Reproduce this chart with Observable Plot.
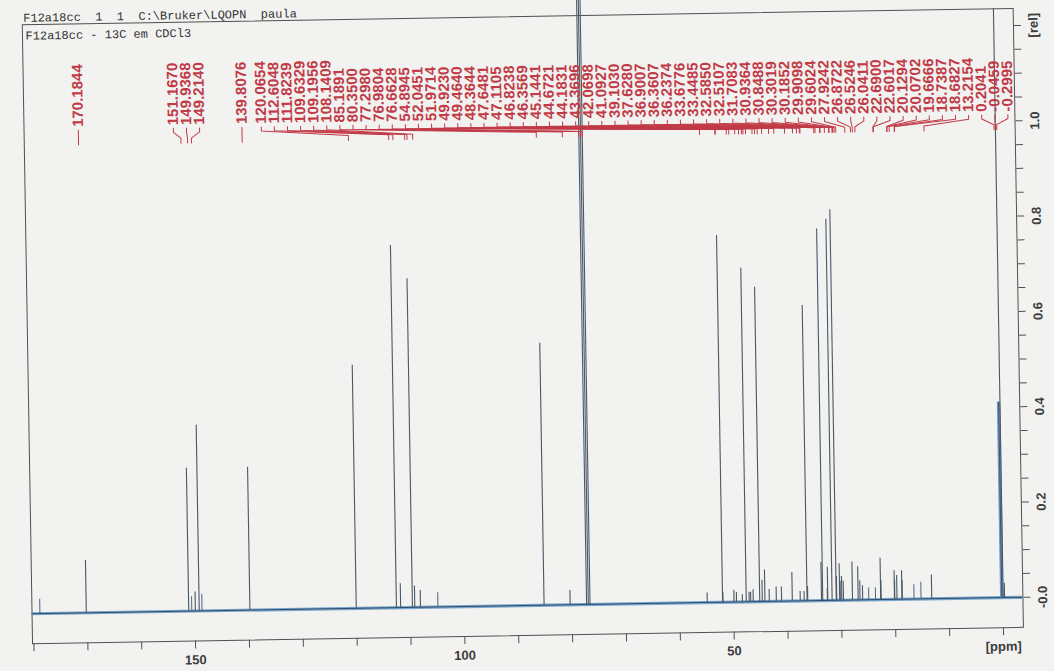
<!DOCTYPE html>
<html><head><meta charset="utf-8">
<script src="https://cdn.jsdelivr.net/npm/d3@7"></script>
<script src="https://cdn.jsdelivr.net/npm/@observablehq/plot@0.6"></script>
<style>
html,body{margin:0;padding:0;background:#f2f2f0;overflow:hidden;}
#wrap{width:1054px;height:671px;transform:rotate(-0.95deg);transform-origin:527px 335px;}
svg text{white-space:pre;}
</style></head><body><div id="wrap"></div>
<script>
// ---- data ----
const headerText = "F12a18cc  1  1  C:\\Bruker\\LQOPN  paula";
const subtitleText = "F12a18cc - 13C em CDCl3";

const peakPpm = [170.1844,151.1670,149.9368,149.2140,139.8076,120.0654,112.6048,111.8239,109.6329,109.1956,108.1409,85.1891,80.3500,77.2980,76.9804,76.6628,54.8945,52.0451,51.9714,49.9230,49.4640,48.3644,47.6481,47.1105,46.8238,46.3569,45.1441,44.6721,44.1831,43.3696,42.0698,41.0927,39.1030,37.6280,36.9007,36.3607,36.2374,33.6776,33.4485,32.5850,32.5107,31.7083,30.9364,30.8488,30.3019,30.1852,29.9098,29.6024,27.9242,26.8722,26.5246,26.0411,22.6900,22.6017,20.1294,20.0702,19.6666,18.7387,18.6827,13.2154,0.2041,-0.0459,-0.2995];
const peakHeight = [0.11,0.30,0.04,0.39,0.30,0.51,0.76,0.05,0.69,0.045,0.035,0.55,0.03,1.27,1.27,1.27,0.02,0.77,0.02,0.025,0.02,0.015,0.70,0.02,0.02,0.025,0.66,0.045,0.066,0.025,0.03,0.03,0.06,0.02,0.02,0.62,0.03,0.08,0.78,0.025,0.07,0.80,0.82,0.05,0.077,0.04,0.05,0.04,0.08,0.07,0.04,0.03,0.087,0.04,0.06,0.04,0.05,0.06,0.04,0.05,0.41,1.236,0.03];

const extraPpm = [178.8,150.6,148.7,104.9,24.9,23.65,16.5,15.2];
const extraHeight = [0.03,0.03,0.035,0.03,0.025,0.025,0.03,0.035];

const broadPpm = [0.2041];
const broadHeight = [0.41];

const xTicks = [180,170,160,150,140,130,120,110,100,90,80,70,60,50,40,30,20,10,0];
const xTickLabels = {150:"150",100:"100",50:"50",0:"[ppm]"};
const yTickCount = 25; // minor step 0.05
const yLabelValues = [0,0.2,0.4,0.6,0.8,1.0,1.2];
const yLabelTexts = ["-0.0","0.2","0.4","0.6","0.8","1.0","[rel]"];

// ---- layout ----
const W = 1054, H = 671, mL = 27, mR = 36, mT = 16, mB = 36;
const xDomain = [180.26, -3.71], yDomain = [-0.063, 1.236];
const xs = d3.scaleLinear(xDomain, [mL, W - mR]);
const ys = d3.scaleLinear(yDomain, [H - mB, mT]);

const peaks = peakPpm.map((p, i) => ({ppm: p, h: peakHeight[i]}));
const extras = extraPpm.map((p, i) => ({ppm: p, h: extraHeight[i]}));
const broads = broadPpm.map((p, i) => ({ppm: p, h: broadHeight[i]}));

// spread labels (Bruker-like): min gap in px, clamp at right
const gap = 13.1, xmax = xs(-2.4);
const order = d3.range(peakPpm.length).sort((a, b) => xs(peakPpm[a]) - xs(peakPpm[b]));
let clusters = order.map(i => ({ids: [i], c: xs(peakPpm[i])}));
let changed = true, guard = 0;
while (changed && guard++ < 5000) {
  changed = false;
  for (const cl of clusters) {
    const half = (cl.ids.length - 1) * gap / 2;
    if (cl.c + half > xmax + 1e-9) { cl.c = xmax - half; }
  }
  for (let k = 0; k < clusters.length - 1; k++) {
    const a = clusters[k], b = clusters[k + 1];
    const aR = a.c + (a.ids.length - 1) * gap / 2;
    const bL = b.c - (b.ids.length - 1) * gap / 2;
    if (bL - aR < gap - 1e-6) {
      const n = a.ids.length + b.ids.length;
      clusters.splice(k, 2, {ids: a.ids.concat(b.ids), c: (a.c * a.ids.length + b.c * b.ids.length) / n});
      changed = true; break;
    }
  }
}
const labels = [];
for (const cl of clusters) {
  const start = cl.c - (cl.ids.length - 1) * gap / 2;
  cl.ids.forEach((i, j) => labels.push({i, text: peakPpm[i].toFixed(4), lx: xs.invert(start + j * gap), px: peakPpm[i]}));
}
const yText = ys.invert(119), yA = ys.invert(122), yB = ys.invert(126), yC = ys.invert(132), yD = ys.invert(137);
const connectors = labels.flatMap(d => [
  {z: d.i, x: d.lx, y: yA}, {z: d.i, x: d.lx, y: yB}, {z: d.i, x: d.px, y: yC}, {z: d.i, x: d.px, y: yD}
]);

const yTicks = d3.range(yTickCount).map(k => Math.round(k * 5) / 100);
const yLabels = yLabelValues.map((v, i) => ({v, t: yLabelTexts[i]}));

const red = "#c13a47", ink = "#3c3c3c";

const plot = Plot.plot({
  width: W, height: H,
  marginLeft: mL, marginRight: mR, marginTop: mT, marginBottom: mB,
  x: {domain: xDomain},
  y: {domain: yDomain},
  style: {background: "transparent", fontFamily: "Liberation Sans, Arial, sans-serif", color: ink, overflow: "visible"},
  marks: [
    Plot.frame({stroke: "#505050", strokeWidth: 1}),
    Plot.axisX(xTicks, {anchor: "bottom", tickSize: 8, tickPadding: 6, tickFormat: d => xTickLabels[d] ?? "", fontSize: 13, fontWeight: "bold", label: null, stroke: "#505050"}),
    Plot.axisY(yTicks, {anchor: "right", tickSize: 7, tickFormat: () => "", label: null, stroke: "#505050"}),
    Plot.text(yLabels, {y: "v", text: "t", frameAnchor: "right", dx: 20, rotate: -90, textAnchor: "middle", lineAnchor: "middle", fontSize: 13, fontWeight: "bold", fill: ink}),
    Plot.ruleY([0], {stroke: "#7aa6cc", strokeWidth: 3.2}),
    Plot.ruleY([0], {stroke: "#2f4d6b", strokeWidth: 1}),
    Plot.ruleX(broads, {x: "ppm", y1: 0, y2: "h", stroke: "#6d9cc7", strokeWidth: 3.5}),
    Plot.ruleX(extras, {x: "ppm", y1: 0, y2: "h", stroke: "#4a6580", strokeWidth: 1}),
    Plot.ruleX(peaks, {x: "ppm", y1: 0, y2: "h", stroke: "#4b5866", strokeWidth: 1.1}),
    Plot.line(connectors, {x: "x", y: "y", z: "z", stroke: red, strokeWidth: 1, curve: "linear"}),
    Plot.text(labels, {x: "lx", y: yText, text: "text", rotate: -90, textAnchor: "start", lineAnchor: "middle", fill: red, fontSize: 15, fontWeight: "bold", ariaLabel: "peak-labels"}),
    Plot.text([headerText], {frameAnchor: "top-left", textAnchor: "start", lineAnchor: "bottom", dx: 1, dy: -3, fontFamily: "Liberation Mono, DejaVu Sans Mono, monospace", fontSize: 12, fill: "#333"}),
    Plot.text([subtitleText], {frameAnchor: "top-left", textAnchor: "start", lineAnchor: "middle", dx: 3, dy: 11, fontFamily: "Liberation Mono, DejaVu Sans Mono, monospace", fontSize: 12, fill: "#333"})
  ]
});
document.getElementById("wrap").appendChild(plot);
// slightly condense the peak labels like the narrow Bruker font
plot.querySelectorAll('g[aria-label="peak-labels"] text').forEach(el => {
  const L = el.getComputedTextLength();
  el.setAttribute("textLength", (L * 0.95).toFixed(1));
  el.setAttribute("lengthAdjust", "spacingAndGlyphs");
});
</script></body></html>
